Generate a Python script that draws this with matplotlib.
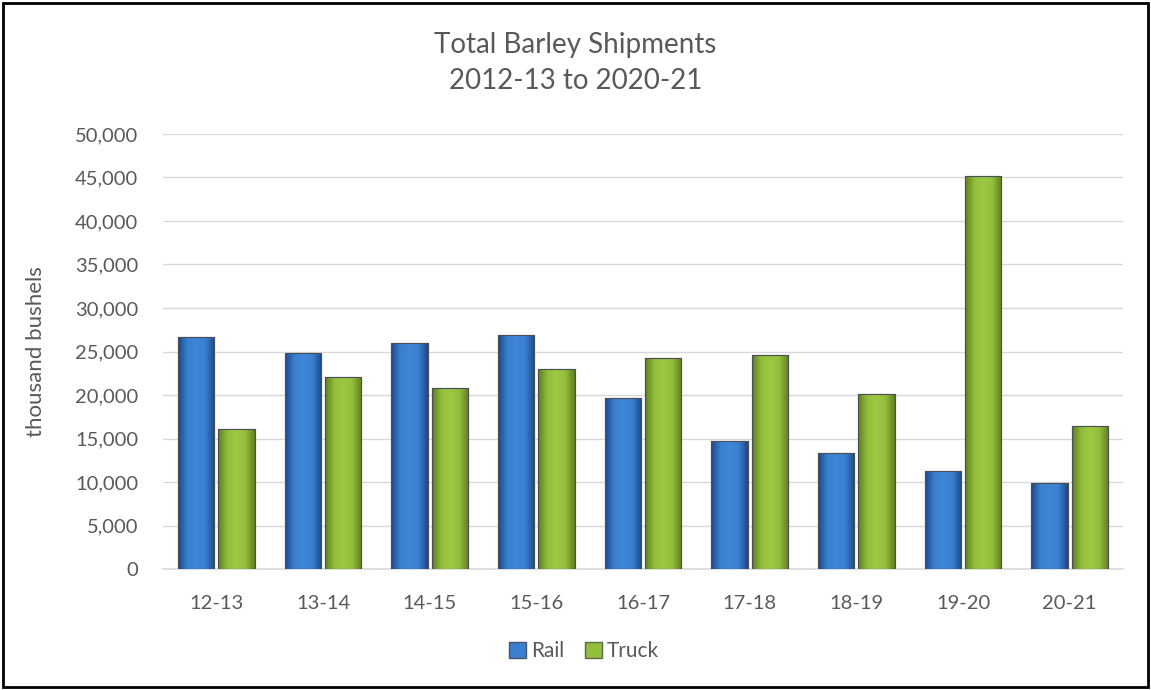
import numpy as np
import matplotlib
matplotlib.use("Agg")
import matplotlib.pyplot as plt
from matplotlib.colors import LinearSegmentedColormap
from matplotlib.patches import Rectangle, Patch

# data (thousand bushels)
seasons = ["12-13", "13-14", "14-15", "15-16", "16-17", "17-18", "18-19", "19-20", "20-21"]
rail = [26700, 24800, 26000, 26900, 19700, 14700, 13300, 11300, 9900]
truck = [16100, 22100, 20800, 23000, 24300, 24600, 20100, 45200, 16400]

plt.rcParams['font.family'] = ['Lato', 'DejaVu Sans']
TXT = '#595959'

fig = plt.figure(figsize=(11.51, 6.90), dpi=100)
ax = fig.add_axes([163/1151, 1-569/690, 960/1151, 435/690])

x = np.arange(len(seasons))
w = 0.34
off = 0.19

blue_cmap = LinearSegmentedColormap.from_list('b', ['#1d4a86', '#3a7fd0', '#3f86d6', '#3a7fd0', '#1d4a86'])
green_cmap = LinearSegmentedColormap.from_list('g', ['#5f7f22', '#93bd3c', '#9cc843', '#93bd3c', '#5f7f22'])
grad = np.linspace(0, 1, 64).reshape(1, -1)

def gradient_bars(bars, cmap):
    for b in bars:
        x0, y0 = b.get_x(), b.get_y()
        bw, bh = b.get_width(), b.get_height()
        im = ax.imshow(grad, cmap=cmap, aspect='auto', extent=[x0, x0 + bw, y0, y0 + bh],
                       zorder=3, interpolation='bicubic')
        im.set_clip_path(b)

rb = ax.bar(x - off, rail, w, color='#3a7fd0', edgecolor='#46546a', linewidth=0.8, zorder=3, label='Rail')
tb = ax.bar(x + off, truck, w, color='#93bd3c', edgecolor='#5a6a48', linewidth=0.8, zorder=3, label='Truck')
gradient_bars(rb, blue_cmap)
gradient_bars(tb, green_cmap)
for b in list(rb) + list(tb):
    ax.add_patch(Rectangle((b.get_x(), b.get_y()), b.get_width(), b.get_height(),
                           fill=False, edgecolor='#4a4f55', linewidth=0.8, zorder=4))

ax.set_xlim(-0.5, len(seasons) - 0.5)
ax.set_ylim(0, 50000)
ax.set_yticks(np.arange(0, 50001, 5000))
ax.set_yticklabels([f"{v:,}" for v in range(0, 50001, 5000)])
ax.set_xticks(x)
ax.set_xticklabels(seasons)
ax.tick_params(axis='both', length=0, labelsize=14.5, colors=TXT)
ax.tick_params(axis='x', pad=19)
ax.tick_params(axis='y', pad=18)
ax.grid(axis='y', color='#d9d9d9', linewidth=1)
ax.set_axisbelow(True)
for s in ['top', 'right', 'left']:
    ax.spines[s].set_visible(False)
ax.spines['bottom'].set_color('#d9d9d9')
ax.spines['bottom'].set_linewidth(1.2)

ax.set_ylabel('thousand bushels', fontsize=16, color=TXT)
ax.yaxis.set_label_coords(-117/960, 0.5)

fig.text(0.5, 1 - 45/690, 'Total Barley Shipments', ha='center', va='center', fontsize=20, color=TXT)
fig.text(0.5, 1 - 81/690, '2012-13 to 2020-21', ha='center', va='center', fontsize=20, color=TXT)

handles = [Patch(facecolor='#3a7fd0', edgecolor='#46546a'), Patch(facecolor='#93bd3c', edgecolor='#5a6a48')]
fig.legend(handles, ['Rail', 'Truck'], loc='center', bbox_to_anchor=(584/1151, 1 - 651/690), ncol=2,
           frameon=False, fontsize=15, labelcolor=TXT, handlelength=0.8, handleheight=0.8,
           handletextpad=0.25, columnspacing=1.0)

fig.patches.append(Rectangle((3/1151, 3/690), 1 - 6/1151, 1 - 6/690, transform=fig.transFigure,
                             fill=False, edgecolor='black', linewidth=2))

fig.savefig('out.png', dpi=100)
